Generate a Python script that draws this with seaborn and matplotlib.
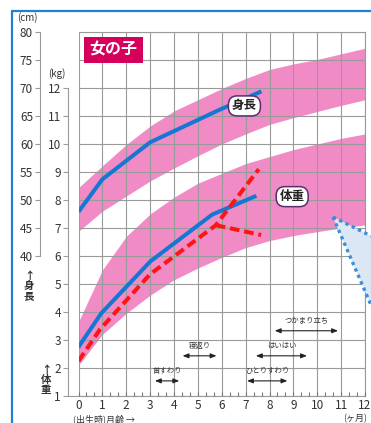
import numpy as np
import pandas as pd
import matplotlib
matplotlib.use("Agg")
import matplotlib.pyplot as plt
import matplotlib.transforms as mtransforms
from matplotlib.lines import Line2D
from matplotlib.patches import Polygon
import seaborn as sns

# ---------------- data ----------------
months = list(range(13))
height_p97 = [52.2, 56.1, 59.9, 63.2, 65.9, 67.9, 69.9, 71.7, 73.3, 74.3, 75.1, 76.1, 77.1]
height_p3 = [44.4, 48.0, 50.7, 53.4, 55.7, 57.9, 60.0, 61.8, 63.5, 64.7, 65.8, 66.9, 67.9]
weight_p97 = [3.65, 5.5, 6.7, 7.5, 8.1, 8.6, 8.95, 9.3, 9.55, 9.8, 10.0, 10.2, 10.36]
weight_p3 = [2.1, 3.2, 3.95, 4.6, 5.15, 5.57, 5.95, 6.3, 6.55, 6.73, 6.87, 7.0, 7.11]

height_months = [0, 1, 3, 5.9, 7.66]
height_cm = [47.9, 53.7, 60.3, 66.1, 69.4]
weight_months = [0, 0.95, 3, 5.6, 7.45]
weight_kg = [2.75, 3.95, 5.8, 7.48, 8.15]
red_a_months = [0, 0.9, 3, 5.75, 7.55]
red_a_kg = [2.25, 3.38, 5.35, 7.1, 9.1]
red_b_months = [5.75, 7.65]
red_b_kg = [7.1, 6.75]

milestones = ["首すわり", "寝返り", "ひとりすわり", "はいはい", "つかまり立ち"]
ms_start = [3.2, 4.36, 7.06, 7.43, 8.22]
ms_end = [4.22, 5.78, 8.75, 9.57, 10.87]
ms_row = [0, 1, 0, 1, 2]

x_ticks = list(range(13))
kg_ticks = list(range(1, 13))
cm_ticks = list(range(40, 85, 5))

# ---------------- style ----------------
sns.set_style("ticks")
plt.rcParams['font.family'] = ['Noto Sans CJK JP', 'DejaVu Sans']

PINK = "#f08bc6"
BLUE = "#1677d2"
RED = "#ff1414"
GRID = "#9a9a9a"
TXT = "#333333"

W, H = 371, 423
fig = plt.figure(figsize=(W / 100, H / 100), dpi=100)
fig.patch.set_facecolor("white")


def fx(x):
    return x / W


def fy(y):
    return 1 - y / H


x0, x1 = 78.5, 365
y_top, y_bot = 32, 396
ax = fig.add_axes([x0 / W, (H - y_bot) / H, (x1 - x0) / W, (y_bot - y_top) / H])
ax.set_xlim(0, 12)
ax.set_ylim(1, 14)

# cm -> kg grid mapping (cm = 10 + 5*kg)
cm_tr = mtransforms.Affine2D().scale(1, 0.2).translate(0, -2) + ax.transData

# bands
ax.fill_between(months, height_p3, height_p97, transform=cm_tr, color=PINK, lw=0, zorder=1)
ax.fill_between(months, weight_p3, weight_p97, color=PINK, lw=0, zorder=1)

# lines
sns.lineplot(x=height_months, y=height_cm, ax=ax, color=BLUE, lw=2.9, sort=False,
             transform=cm_tr, zorder=4, solid_capstyle="butt")
sns.lineplot(x=weight_months, y=weight_kg, ax=ax, color=BLUE, lw=2.9, sort=False,
             zorder=4, solid_capstyle="butt")
sns.lineplot(x=red_a_months, y=red_a_kg, ax=ax, color=RED, lw=2.9, sort=False,
             linestyle=(0, (2.4, 1.2)), zorder=5)
sns.lineplot(x=red_b_months, y=red_b_kg, ax=ax, color=RED, lw=2.9, sort=False,
             linestyle=(0, (2.4, 1.2)), zorder=5)
ax.set_xlim(0, 12)
ax.set_ylim(1, 14)
ax.set_xlabel("")
ax.set_ylabel("")

# ticks & grid
ax.xaxis.remove_overlapping_locs = False
ax.yaxis.remove_overlapping_locs = False
ax.set_xticks(x_ticks)
ax.set_xticks(np.arange(0, 12.01, 1 / 3), minor=True)
ax.set_yticks(kg_ticks)
ax.set_yticks(range(1, 15), minor=True)
ax.set_axisbelow(False)
ax.xaxis.grid(True, which="major", color=GRID, lw=0.8)
ax.yaxis.grid(True, which="minor", color=GRID, lw=0.8)
ax.yaxis.grid(False, which="major")
ax.tick_params(axis="x", which="major", length=0, pad=2.5, labelsize=8.5, labelcolor=TXT)
ax.tick_params(axis="x", which="minor", direction="in", length=3.2, width=0.8, color="#777777")
ax.tick_params(axis="y", which="major", direction="out", length=3.5, width=0.8,
               color=GRID, pad=1.5, labelsize=8.5, labelcolor=TXT)
ax.tick_params(axis="y", which="minor", length=0)

for s in ax.spines.values():
    s.set_color(GRID)
    s.set_linewidth(0.8)
ax.spines["left"].set_position(("outward", 10.5 * 72 / 100))
ax.spines["left"].set_bounds(1, 12)
ax.spines["bottom"].set_bounds(-10.5 / 23.9, 12)

sec = ax.secondary_yaxis(-(x0 - 40) / (x1 - x0),
                         functions=(lambda k: 10 + 5 * np.asarray(k),
                                    lambda c: (np.asarray(c) - 10) / 5))
sec.set_yticks(cm_ticks)
sec.spines["left"].set_bounds(40, 80)
sec.spines["left"].set_color(GRID)
sec.spines["left"].set_linewidth(0.8)
sec.tick_params(axis="y", direction="out", length=3.5, width=0.8, color=GRID,
                pad=1.5, labelsize=8.5, labelcolor=TXT)
sec.tick_params(axis="y", which="minor", length=0)

# labels in plot
ax.text(1.47, 13.37, "女の子", fontsize=11.5, fontweight="bold", color="white",
        ha="center", va="center", zorder=8,
        bbox=dict(boxstyle="square,pad=0.32", fc="#d5005b", ec="none"))
ax.text(6.95, 11.36, "身長", fontsize=9, fontweight="bold", color="#222222",
        ha="center", va="center", zorder=8,
        bbox=dict(boxstyle="round,pad=0.28,rounding_size=0.7", fc="white",
                  ec="#5b2d6e", lw=1.1))
ax.text(8.95, 8.12, "体重", fontsize=9, fontweight="bold", color="#222222",
        ha="center", va="center", zorder=8,
        bbox=dict(boxstyle="round,pad=0.28,rounding_size=0.7", fc="white",
                  ec="#5b2d6e", lw=1.1))

# milestones
for name, a, b, r in zip(milestones, ms_start, ms_end, ms_row):
    yv = 1.54 + 0.895 * r
    ax.annotate("", xy=(b, yv), xytext=(a, yv), zorder=6,
                arrowprops=dict(arrowstyle="<|-|>,head_length=0.35,head_width=0.14",
                                color="#222222", lw=0.8, shrinkA=0, shrinkB=0))
    ax.text((a + b) / 2, yv + 0.34, name, fontsize=5.3, color=TXT,
            ha="center", va="center", zorder=6)

# axis captions
fig.text(fx(27), fy(18), "(cm)", fontsize=7, color=TXT, ha="center", va="center")
fig.text(fx(57), fy(74), "(kg)", fontsize=7, color=TXT, ha="center", va="center")
fig.text(fx(29), fy(286), "↑\n身\n長", fontsize=7.5, color=TXT, ha="center", va="center",
         linespacing=1.0, fontweight="bold")
fig.text(fx(46), fy(380), "↑\n体\n重", fontsize=7.5, color=TXT, ha="center", va="center",
         linespacing=1.0, fontweight="bold")
fig.text(fx(104), fy(419), "(出生時)月齢 →", fontsize=6.5, color=TXT, ha="center", va="center")
fig.text(fx(355), fy(419), "(ヶ月)", fontsize=6.5, color=TXT, ha="center", va="center")

# frame
frame_c = "#1f80d6"
fig.add_artist(Line2D([fx(12), fx(12)], [fy(11), 0], color=frame_c, lw=1.6))
fig.add_artist(Line2D([fx(12), 1], [fy(11), fy(11)], color=frame_c, lw=1.6))

# speech-bubble pointer
apex = (fx(333), fy(217))
p_up = (1.0, fy(236))
p_lo = (1.0, fy(305))
fig.add_artist(Polygon([apex, p_up, p_lo], closed=True, fc="#dbe7f5", ec="none", zorder=10))
dot_c = "#3a8fdc"
for p in (p_up, p_lo):
    fig.add_artist(Line2D([apex[0], p[0]], [apex[1], p[1]], color=dot_c, lw=2.4,
                          linestyle=(0, (1, 1.1)), zorder=11))

fig.savefig("out.png", dpi=100, facecolor="white")
